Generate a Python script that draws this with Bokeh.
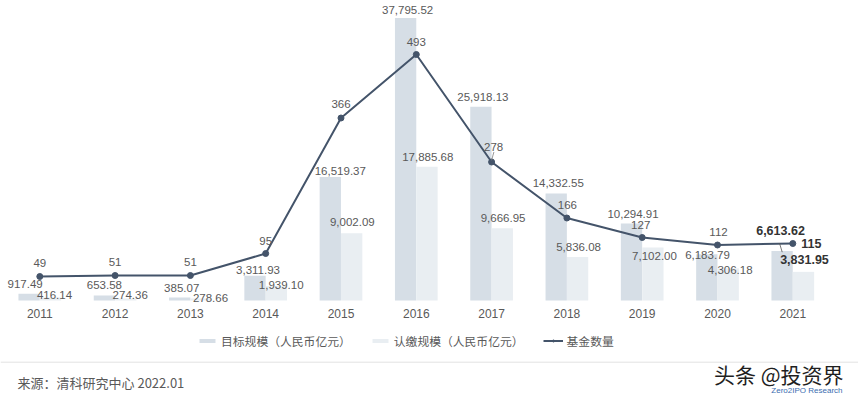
from bokeh.plotting import figure
from bokeh.models import Range1d, ColumnDataSource, Legend, LegendItem, Label, Span
from bokeh.core.properties import value
from bokeh.embed import file_html
from bokeh.resources import INLINE

# ---- data ----
years = ["2011", "2012", "2013", "2014", "2015", "2016", "2017", "2018", "2019", "2020", "2021"]
target = [917.49, 653.58, 385.07, 3311.93, 16519.37, 37795.52, 25918.13, 14332.55, 10294.91, 6183.79, 6613.62]
subscribed = [416.14, 274.36, 278.66, 1939.10, 9002.09, 17885.68, 9666.95, 5836.08, 7102.00, 4306.18, 3831.95]
funds = [49, 51, 51, 95, 366, 493, 278, 166, 127, 112, 115]
legend_labels = ["目标规模（人民币亿元）", "认缴规模（人民币亿元）", "基金数量"]
source_note = "来源：清科研究中心 2022.01"
watermark = "头条 @投资界"
watermark_sub = "Zero2IPO Research"

# ---- label placement (pixel offsets, styles) ----
t_dx = [-4, 0, 2, 3, 10, 2, 2, 2, 1.5, 0.7, -1.6]
t_dy = [-10, -11, -10, -6, -6, -8, -10, -10.5, -10, 0.6, -20.5]
s_dx = [4, 4.4, 9.4, 4.8, 0.6, 0.8, 0.8, 1, 1.6, 2, 1]
s_dy = [-2, -3, 0, -1, -10.9, -10.3, -10.3, -10.3, 8.9, 1.6, -12.3]
f_dx = [0, 0, 0, 0, 0, 0, 2, 0.5, -1.5, 1, 18.5]
f_dy = [-14, -13.5, -13.5, -12.7, -14, -12.7, -15, -13.3, -12.4, -13.3, 0]

W, H = 858, 397
X0, X1 = -0.5219, 10.8725
Y0, Y1 = -12978.6, 40140
C0, C1 = -193, 601
ux = (X1 - X0) / W
uy = (Y1 - Y0) / H
uc = (C1 - C0) / H

BAR1 = "#d6dee6"
BAR2 = "#e9eef2"
LINE = "#44546a"
TXT = "#595959"
BOLD = "#333333"
NUM_FONT = "Liberation Sans"
CJK = "Noto Sans CJK SC"

n = len(years)
idx = list(range(n))
off = 0.142
bw = 0.283
last = n - 1

fonts = [NUM_FONT] * n
styles = ["normal"] * (n - 1) + ["bold"]
sizes = ["11.5px"] * (n - 1) + ["12.5px"]
colors = [TXT] * (n - 1) + [BOLD]

src = ColumnDataSource(dict(
    x=idx,
    xt=[i - off for i in idx],
    xs=[i + off for i in idx],
    year=years,
    target=target,
    sub=subscribed,
    funds=funds,
    t_lab=[f"{v:,.2f}" for v in target],
    s_lab=[f"{v:,.2f}" for v in subscribed],
    f_lab=[str(v) for v in funds],
    t_dx=t_dx, t_dy=t_dy, s_dx=s_dx, s_dy=s_dy, f_dx=f_dx, f_dy=f_dy,
    font=fonts, style=styles, size=sizes, color=colors,
    zero=[0] * n,
))

p = figure(width=W, height=H, x_range=Range1d(X0, X1), y_range=Range1d(Y0, Y1),
           output_backend="svg", toolbar_location=None,
           x_axis_location=None, y_axis_location=None, min_border=0,
           outline_line_color=None, background_fill_color="white", border_fill_color="white")
p.extra_y_ranges = {"cnt": Range1d(C0, C1)}
p.grid.visible = False

r_t = p.vbar(x="xt", top="target", bottom=0, width=bw, fill_color=BAR1, line_color=None, source=src)
r_s = p.vbar(x="xs", top="sub", bottom=0, width=bw, fill_color=BAR2, line_color=None, source=src)
r_l = p.line(x="x", y="funds", y_range_name="cnt", line_color=LINE, line_width=2, source=src)
r_m = p.scatter(x="x", y="funds", y_range_name="cnt", size=6, fill_color=LINE, line_color=LINE, source=src)

# leader lines
p.segment(x0=[6 + 0.0 * ux], y0=[funds[6] + 1.7 * uc], x1=[6 + 2.3 * ux], y1=[funds[6] + 10 * uc],
          y_range_name="cnt", line_color="#7f7f7f", line_width=0.8)
p.segment(x0=[last - off + 0.1 * ux], y0=[target[last] - 1.1 * uy], x1=[last - off - 2.6 * ux],
          y1=[target[last] + 7.9 * uy], line_color="#555555", line_width=0.8)

common = dict(text_align="center", text_baseline="middle", source=src,
              text_font="font", text_font_style="style", text_font_size="size", text_color="color")
p.text(x="xt", y="target", text="t_lab", x_offset="t_dx", y_offset="t_dy", **common)
p.text(x="xs", y="sub", text="s_lab", x_offset="s_dx", y_offset="s_dy", **common)
p.text(x="x", y="funds", text="f_lab", x_offset="f_dx", y_offset="f_dy", y_range_name="cnt", **common)

# category labels
p.text(x="x", y="zero", text="year", y_offset=13, text_align="center", text_baseline="middle",
       text_font=value(NUM_FONT), text_font_size="12px", text_color=TXT, source=src)

legend = Legend(items=[
    LegendItem(label=legend_labels[0], renderers=[r_t]),
    LegendItem(label=legend_labels[1], renderers=[r_s]),
    LegendItem(label=legend_labels[2], renderers=[r_l, r_m]),
], orientation="horizontal", location=(197, 397 - 349), glyph_width=20, glyph_height=5,
    label_height=14, label_standoff=4, spacing=19, padding=0, margin=0,
    label_text_font=CJK, label_text_font_size="11.8px", label_text_color=TXT,
    border_line_color=None, background_fill_alpha=0)
p.add_layout(legend)

p.add_layout(Span(location=-(361.7 - 300) * uy, dimension="width", line_color="#e3e3e3", line_width=1))

p.add_layout(Label(x=17, y=397 - 381.7, x_units="screen", y_units="screen", text=source_note,
                   text_font=CJK, text_font_size="13px", text_color=TXT, text_baseline="middle"))
p.add_layout(Label(x=843, y=397 - 373.3, x_units="screen", y_units="screen", text=watermark,
                   text_font=CJK, text_font_size="21px", text_color="#1f1f1f",
                   text_baseline="middle", text_align="right"))
p.add_layout(Label(x=842, y=3, x_units="screen", y_units="screen", text=watermark_sub,
                   text_font="Liberation Sans", text_font_size="8px", text_color="#3b6db0",
                   text_baseline="bottom", text_align="right"))

open("out.html", "w").write(file_html(p, INLINE))
